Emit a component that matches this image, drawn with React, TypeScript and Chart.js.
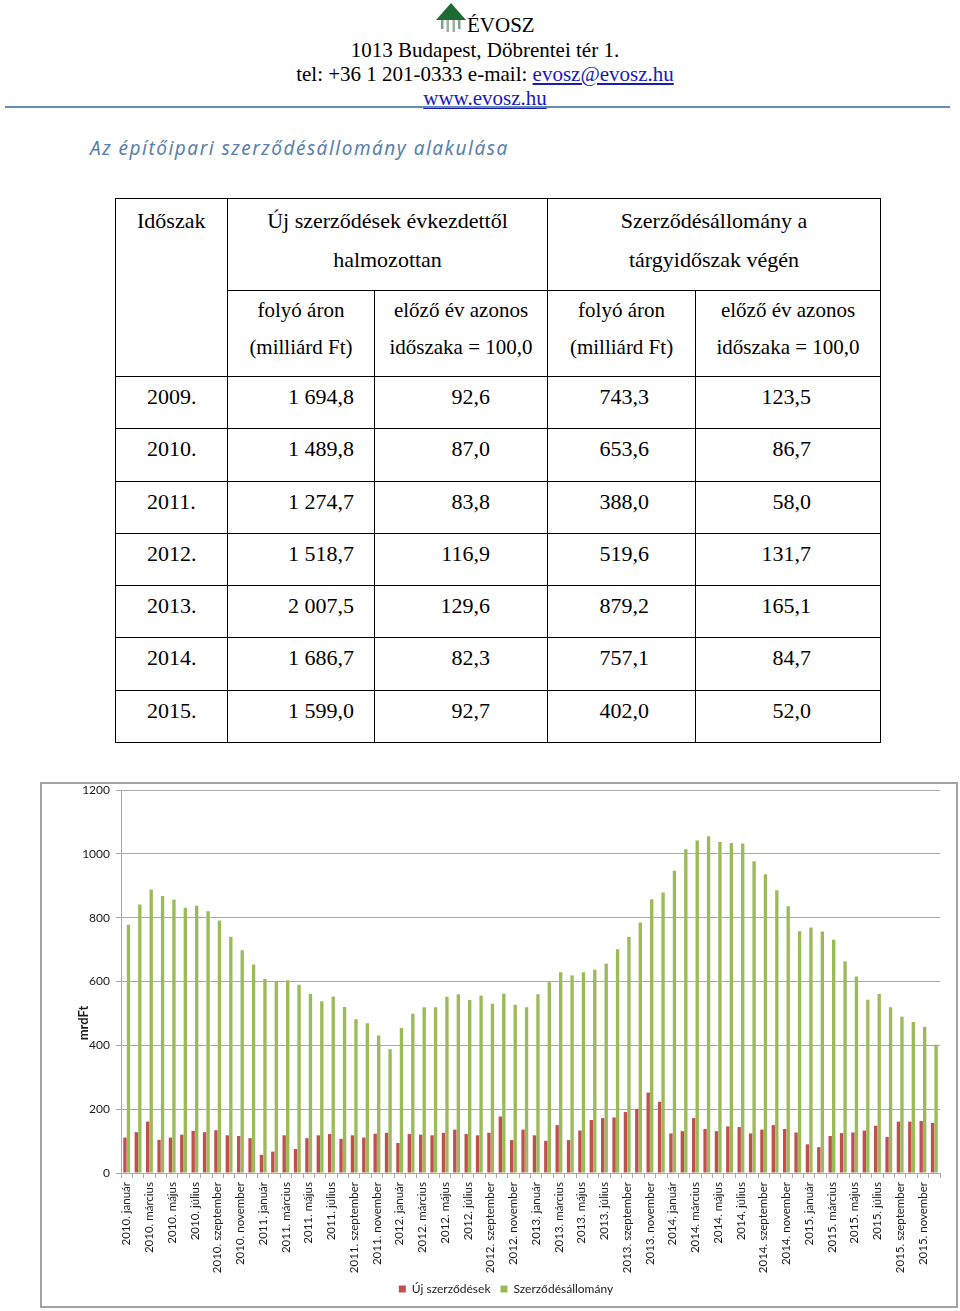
import React, { useEffect, useRef } from 'react';
import { Chart, registerables } from 'chart.js';

Chart.register(...registerables);

const years = ['2010', '2011', '2012', '2013', '2014', '2015'];
const monthNames = ['január', 'február', 'március', 'április', 'május', 'június', 'július', 'augusztus', 'szeptember', 'október', 'november', 'december'];
const monthLabels = years.flatMap((y) => monthNames.map((m) => `${y}. ${m}`));

const newContracts = [
  111, 128, 161, 104, 111, 120, 132, 128, 134, 118, 116, 109,
  57, 67, 118, 75, 109, 118, 122, 107, 118, 111, 123, 126,
  94, 122, 120, 118, 126, 136, 122, 118, 126, 177, 103, 136,
  118, 101, 150, 103, 133, 166, 172, 174, 191, 201, 252, 223,
  124, 131, 172, 138, 131, 146, 144, 124, 136, 150, 138, 127,
  90, 81, 116, 125, 127, 133, 148, 113, 161, 161, 163, 157,
];

const contractStock = [
  778, 841, 888, 868, 857, 831, 837, 820, 791, 740, 698, 653.6,
  608, 601, 604, 590, 562, 538, 553, 520, 482, 469, 431, 388.0,
  454, 499, 519, 519, 552, 560, 542, 556, 530, 562, 527, 519.6,
  560, 598, 629, 619, 629, 637, 656, 701, 740, 785, 858, 879.2,
  947, 1014, 1042, 1055, 1037, 1034, 1032, 977, 936, 886, 836, 757.1,
  769, 757, 731, 663, 616, 543, 561, 519, 490, 473, 458, 402.0,
];

const seriesNames = ['Új szerződések', 'Szerződésállomány'];
const yTicks = { min: 0, max: 1200, step: 200 };
const yAxisTitle = 'mrdFt';

const tablePeriods = ['2009.', '2010.', '2011.', '2012.', '2013.', '2014.', '2015.'];
const tableNewValue = ['1 694,8', '1 489,8', '1 274,7', '1 518,7', '2 007,5', '1 686,7', '1 599,0'];
const tableNewIndex = ['92,6', '87,0', '83,8', '116,9', '129,6', '82,3', '92,7'];
const tableStockValue = ['743,3', '653,6', '388,0', '519,6', '879,2', '757,1', '402,0'];
const tableStockIndex = ['123,5', '86,7', '58,0', '131,7', '165,1', '84,7', '52,0'];

const FONT = 'Lato';
const TEXT = '#1a1a1a';
const GRID = '#a9a9a9';

const yTitlePlugin = {
  id: 'yTitlePlugin',
  afterDraw(chart: any) {
    const { ctx } = chart;
    const y = chart.scales.y;
    ctx.save();
    ctx.translate(42, y.getPixelForValue(470));
    ctx.rotate(-Math.PI / 2);
    ctx.font = `bold 13px ${FONT}`;
    ctx.fillStyle = TEXT;
    ctx.textAlign = 'center';
    ctx.textBaseline = 'middle';
    ctx.fillText(yAxisTitle, 0, 0);
    ctx.restore();
  },
};

function BarChart() {
  const ref = useRef<HTMLCanvasElement | null>(null);
  useEffect(() => {
    if (!ref.current) return;
    const chart = new Chart(ref.current, {
      type: 'bar',
      data: {
        labels: monthLabels,
        datasets: [
          { label: seriesNames[0], data: newContracts, backgroundColor: '#c0504d', categoryPercentage: 0.62, barPercentage: 0.95 },
          { label: seriesNames[1], data: contractStock, backgroundColor: '#9bbb59', categoryPercentage: 0.62, barPercentage: 0.95 },
        ],
      },
      options: {
        animation: false,
        responsive: false,
        maintainAspectRatio: false,
        layout: { padding: { left: 30, right: 16, top: 6, bottom: 1 } },
        plugins: {
          legend: {
            position: 'bottom',
            labels: { boxWidth: 7, boxHeight: 7, font: { family: FONT, size: 12 }, color: TEXT, padding: 10 },
          },
          tooltip: { enabled: false },
        },
        scales: {
          x: {
            grid: { display: true, drawOnChartArea: false, tickLength: 5, color: GRID, offset: true },
            border: { color: GRID },
            ticks: {
              autoSkip: false,
              minRotation: 90,
              maxRotation: 90,
              padding: 4,
              font: { family: FONT, size: 11.5 },
              color: TEXT,
              callback: (_v: any, i: number) => (i % 2 === 0 ? monthLabels[i] : ''),
            },
            afterFit: (s: any) => {
              s.height = 100;
            },
          },
          y: {
            min: yTicks.min,
            max: yTicks.max,
            ticks: {
              stepSize: yTicks.step,
              padding: 6,
              font: { family: FONT, size: 12 },
              color: TEXT,
              callback: (v: any) => String(v),
            },
            grid: { color: GRID, tickLength: 5 },
            border: { color: GRID },
            afterFit: (s: any) => {
              s.width = 49;
              s.paddingTop = 0;
              s.paddingBottom = 0;
            },
          },
        },
      },
      plugins: [yTitlePlugin],
    } as any);
    return () => chart.destroy();
  }, []);
  return <canvas ref={ref} width={914} height={522} style={{ display: 'block' }} />;
}

const cell: React.CSSProperties = {
  border: '1px solid #000',
  padding: 0,
  verticalAlign: 'top',
};

export default function App() {
  const link: React.CSSProperties = { color: '#1a1ab8', textDecoration: 'underline' };
  const dataRowH = 366 / 7;
  const head: React.CSSProperties = { position: 'absolute', left: 10, width: 950, textAlign: 'center', fontSize: 21, lineHeight: '24px' };
  return (
    <div style={{ position: 'absolute', left: 0, top: 0, width: 960, height: 1311, fontFamily: '"Liberation Serif", "Times New Roman", serif', color: '#000', background: '#fff' }}>
      <svg style={{ position: 'absolute', left: 436, top: 3 }} width="30" height="30" viewBox="0 0 30 30">
        <polygon points="15,0 30,17 0,17" fill="#1d6a33" />
        <rect x="5" y="17" width="2.5" height="9" fill="#7fa088" />
        <rect x="10.5" y="17" width="2.5" height="12" fill="#9ab3a0" />
        <rect x="16.5" y="17" width="2.5" height="12" fill="#9ab3a0" />
        <rect x="22" y="17" width="2.5" height="9" fill="#7fa088" />
      </svg>
      <div style={{ position: 'absolute', left: 467, top: 13, fontSize: 21, lineHeight: '24px' }}>ÉVOSZ</div>
      <div style={{ ...head, top: 38 }}>1013 Budapest, Döbrentei tér 1.</div>
      <div style={{ ...head, top: 62 }}>
        tel: +36 1 201-0333 e-mail: <span style={link}>evosz@evosz.hu</span>
      </div>
      <div style={{ ...head, top: 86 }}>
        <span style={link}>www.evosz.hu</span>
      </div>
      <div style={{ position: 'absolute', left: 5, top: 106, width: 945, height: 2, background: '#6a8db5' }} />
      <div style={{ position: 'absolute', left: 90, top: 136, fontFamily: '"Noto Sans", sans-serif', fontStyle: 'italic', fontSize: 19, lineHeight: '24px', letterSpacing: '1.5px', color: '#5a7fab' }}>
        Az építőipari szerződésállomány alakulása
      </div>

      <table style={{ position: 'absolute', left: 115, top: 198, width: 765, borderCollapse: 'collapse', tableLayout: 'fixed', fontSize: 22 }}>
        <colgroup>
          <col style={{ width: 112 }} />
          <col style={{ width: 147 }} />
          <col style={{ width: 173 }} />
          <col style={{ width: 148 }} />
          <col style={{ width: 185 }} />
        </colgroup>
        <tbody>
          <tr style={{ height: 92 }}>
            <td rowSpan={2} style={{ ...cell, paddingLeft: 21, paddingTop: 2, lineHeight: '39px' }}>Időszak</td>
            <td colSpan={2} style={{ ...cell, textAlign: 'center', paddingTop: 2, lineHeight: '39px' }}>
              Új szerződések évkezdettől
              <br />
              halmozottan
            </td>
            <td colSpan={2} style={{ ...cell, textAlign: 'center', paddingTop: 2, lineHeight: '39px' }}>
              Szerződésállomány a
              <br />
              tárgyidőszak végén
            </td>
          </tr>
          <tr style={{ height: 86, fontSize: 21 }}>
            <td style={{ ...cell, textAlign: 'center', paddingTop: 1, lineHeight: '37px' }}>folyó áron<br />(milliárd Ft)</td>
            <td style={{ ...cell, textAlign: 'center', paddingTop: 1, lineHeight: '37px' }}>előző év azonos<br />időszaka = 100,0</td>
            <td style={{ ...cell, textAlign: 'center', paddingTop: 1, lineHeight: '37px' }}>folyó áron<br />(milliárd Ft)</td>
            <td style={{ ...cell, textAlign: 'center', paddingTop: 1, lineHeight: '37px' }}>előző év azonos<br />időszaka = 100,0</td>
          </tr>
          {tablePeriods.map((p, i) => (
            <tr key={p} style={{ height: dataRowH }}>
              <td style={{ ...cell, paddingLeft: 31, paddingTop: 7, lineHeight: '26px' }}>{p}</td>
              <td style={{ ...cell, textAlign: 'right', paddingRight: 20, paddingTop: 7, lineHeight: '26px' }}>{tableNewValue[i]}</td>
              <td style={{ ...cell, textAlign: 'right', paddingRight: 57, paddingTop: 7, lineHeight: '26px' }}>{tableNewIndex[i]}</td>
              <td style={{ ...cell, textAlign: 'right', paddingRight: 46, paddingTop: 7, lineHeight: '26px' }}>{tableStockValue[i]}</td>
              <td style={{ ...cell, textAlign: 'right', paddingRight: 69, paddingTop: 7, lineHeight: '26px' }}>{tableStockIndex[i]}</td>
            </tr>
          ))}
        </tbody>
      </table>

      <div style={{ position: 'absolute', left: 40, top: 782, width: 914, height: 522, border: '2px solid #a3a3a3' }}>
        <BarChart />
      </div>
    </div>
  );
}
